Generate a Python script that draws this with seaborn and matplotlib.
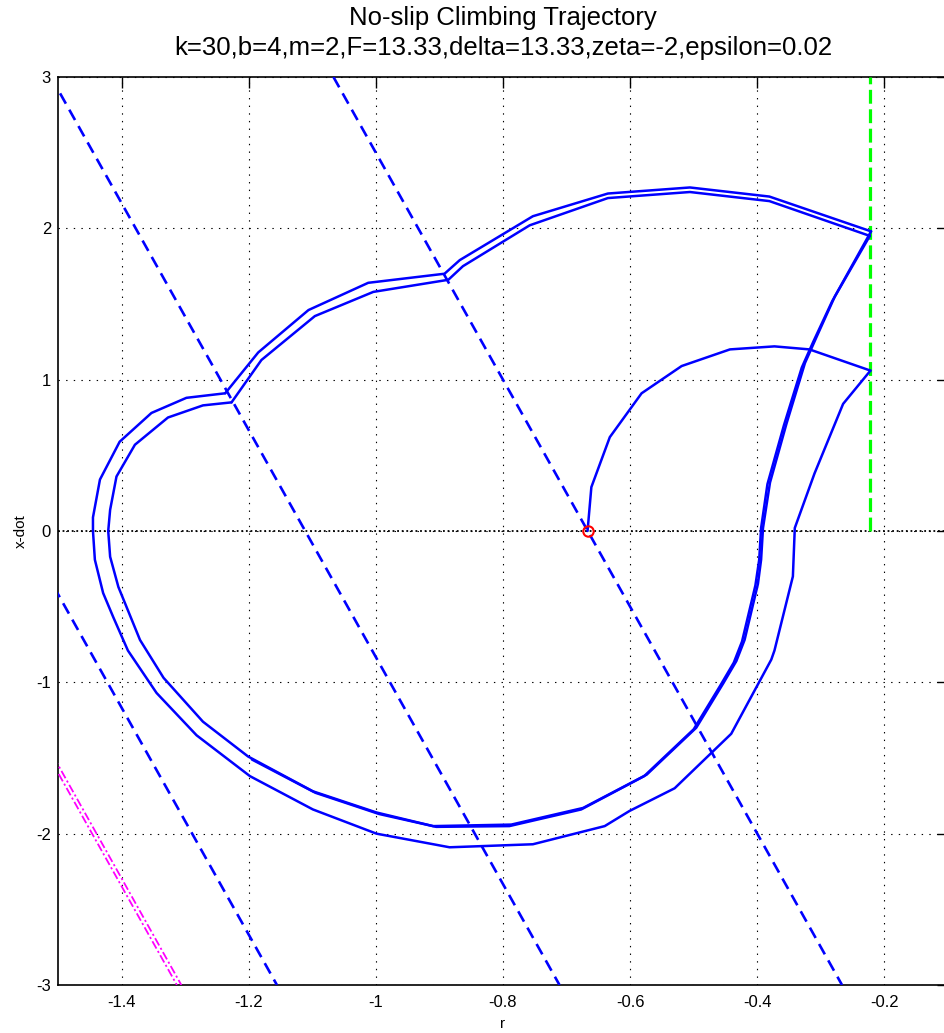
import matplotlib
matplotlib.use("Agg")
import matplotlib.pyplot as plt
import seaborn as sns
import pandas as pd

sns.set_style("white")
plt.rcParams['font.family'] = ['Liberation Sans', 'DejaVu Sans']
plt.rcParams['lines.scale_dashes'] = False
plt.rcParams['text.color'] = 'black'
plt.rcParams['axes.labelcolor'] = 'black'

# ---------------- data ----------------
# trajectory segments (r, x-dot), in time order
seg1_r = [-0.667, -0.661, -0.632, -0.582, -0.519, -0.443, -0.373, -0.318, -0.222]
seg1_v = [0.0, 0.29, 0.62, 0.91, 1.09, 1.20, 1.22, 1.20, 1.06]

seg2_r = [-0.222, -0.265, -0.310, -0.341, -0.344, -0.373, -0.378, -0.441, -0.530, -0.601,
          -0.640, -0.753, -0.884, -0.999, -1.099, -1.198, -1.282, -1.345, -1.390, -1.413,
          -1.429, -1.442, -1.445, -1.445, -1.434, -1.403, -1.353, -1.298, -1.237]
seg2_v = [1.06, 0.84, 0.38, 0.02, -0.30, -0.79, -0.85, -1.34, -1.70, -1.85,
          -1.95, -2.07, -2.09, -2.00, -1.84, -1.62, -1.35, -1.07, -0.79, -0.57,
          -0.41, -0.19, 0.0, 0.09, 0.34, 0.59, 0.78, 0.88, 0.91]

seg3_r = [-1.237, -1.185, -1.106, -1.012, -0.892, -0.868, -0.753, -0.635, -0.506, -0.381, -0.221]
seg3_v = [0.91, 1.18, 1.46, 1.64, 1.70, 1.79, 2.08, 2.23, 2.27, 2.21, 1.98]

seg4_r = [-0.221, -0.278, -0.307, -0.325, -0.354, -0.380, -0.391, -0.394, -0.399, -0.420,
          -0.433, -0.454, -0.496, -0.574, -0.674, -0.787, -0.910, -0.999, -1.099, -1.201,
          -1.272, -1.334, -1.371, -1.405, -1.418, -1.421, -1.418, -1.408, -1.379, -1.327,
          -1.272, -1.227]
seg4_v = [1.98, 1.55, 1.28, 1.11, 0.71, 0.32, 0.02, -0.19, -0.35, -0.72,
          -0.86, -1.01, -1.30, -1.61, -1.83, -1.94, -1.95, -1.86, -1.72, -1.49,
          -1.26, -0.97, -0.72, -0.37, -0.17, 0.0, 0.14, 0.36, 0.57, 0.75,
          0.83, 0.85]

seg5_r = [-1.227, -1.180, -1.096, -1.004, -0.886, -0.863, -0.758, -0.635, -0.506, -0.381, -0.223]
seg5_v = [0.85, 1.13, 1.42, 1.58, 1.66, 1.75, 2.02, 2.20, 2.24, 2.18, 1.95]

seg6_r = [-0.223, -0.282, -0.312, -0.330, -0.358, -0.384, -0.394, -0.397, -0.403, -0.424,
          -0.437, -0.458, -0.500, -0.578, -0.677, -0.790, -0.905, -0.995, -1.095, -1.195]
seg6_v = [1.95, 1.52, 1.25, 1.08, 0.70, 0.31, 0.02, -0.19, -0.36, -0.73,
          -0.87, -1.02, -1.31, -1.62, -1.84, -1.95, -1.955, -1.87, -1.73, -1.51]

segments = [(seg1_r, seg1_v), (seg2_r, seg2_v), (seg3_r, seg3_v),
            (seg4_r, seg4_v), (seg5_r, seg5_v), (seg6_r, seg6_v)]

# switching lines (blue dashed): r at x-dot = 3 and at x-dot = -3
switch_r_top = [-1.9556, -1.5111, -1.0667]
switch_r_bot = [-1.1556, -0.7111, -0.2667]
switch_v_ends = [3.0, -3.0]

# magenta dash-dot lines
mag_r_top = [-2.106, -2.113]
mag_r_bot = [-1.306, -1.313]

# green boundary
wall_r = [-0.2222, -0.2222]
wall_v = [0.0, 3.0]

# start point
start_r = [-0.667]
start_v = [0.0]

zero_line = 0.0

xticks = [-1.4, -1.2, -1.0, -0.8, -0.6, -0.4, -0.2]
xtick_labels = ['-1.4', '-1.2', '-1', '-0.8', '-0.6', '-0.4', '-0.2']
yticks = [-3, -2, -1, 0, 1, 2, 3]
ytick_labels = ['-3', '-2', '-1', '0', '1', '2', '3']

# ---------------- figure ----------------
W, H = 944, 1033
fig = plt.figure(figsize=(W / 100, H / 100), dpi=100)
ax = fig.add_axes([58 / W, 48 / H, 890 / W, 908 / H])

ax.set_xlim(-1.5, -0.1)
ax.set_ylim(-3, 3)

ax.grid(True, color='black', linestyle=(0, (1.0, 4.5)), linewidth=0.8)
ax.set_axisbelow(True)

ax.axhline(zero_line, color='black', linestyle=(0, (1.3, 2.0)), linewidth=1.3, zorder=2)

for rt, rb in zip(switch_r_top, switch_r_bot):
    ax.plot([rt, rb], switch_v_ends, color='#0000ff', linestyle=(0, (8.5, 5.0)),
            linewidth=1.9, zorder=3)

for rt, rb, off in zip(mag_r_top, mag_r_bot, [0, 4]):
    ax.plot([rt, rb], switch_v_ends, color='#ff00ff', linestyle=(off, (6, 2.0, 1.5, 2.0)),
            linewidth=1.3, zorder=3)

ax.plot(wall_r, wall_v, color='#00ff00', linestyle=(0, (10, 4)), linewidth=2.3, zorder=3)

for r, v in segments:
    df = pd.DataFrame({'r': r, 'v': v})
    sns.lineplot(data=df, x='r', y='v', sort=False, estimator=None, color='#0000ff',
                 linewidth=1.8, ax=ax, zorder=4)

ax.plot(start_r, start_v, 'o', mfc='none', mec='red', ms=7.5, mew=1.5, zorder=5)

ax.set_xticks(xticks)
ax.set_xticklabels(xtick_labels)
ax.set_yticks(yticks)
ax.set_yticklabels(ytick_labels)
ax.tick_params(direction='in', length=8, width=1.0, top=True, right=True,
               labelsize=12, colors='black')
ax.tick_params(axis='x', pad=7)
ax.tick_params(axis='y', pad=5)

for s in ax.spines.values():
    s.set_color('black')
    s.set_linewidth(1.2)

ax.set_xlabel('r', fontsize=11, labelpad=5)
ax.set_ylabel('x-dot', fontsize=11, labelpad=6)
ax.set_title('No-slip Climbing Trajectory\nk=30,b=4,m=2,F=13.33,delta=13.33,zeta=-2,epsilon=0.02',
             fontsize=18.5, linespacing=1.3, pad=16, color='black')

fig.savefig('out.png', dpi=100)
